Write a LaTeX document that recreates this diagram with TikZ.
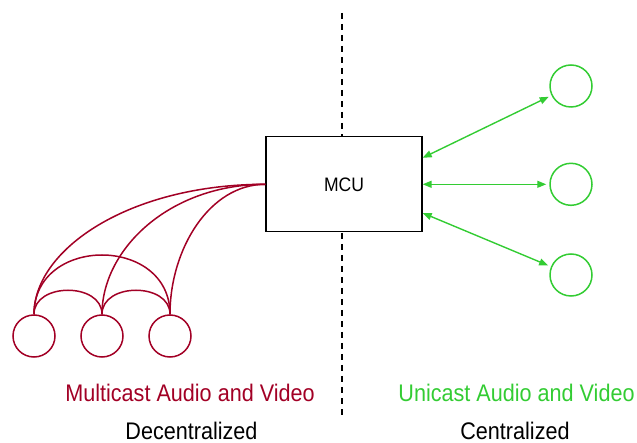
\documentclass[tikz,border=0pt]{standalone}
\usepackage{fontspec}
\setmainfont{Liberation Sans}
\newfontfamily\narrowsans[FakeStretch=0.9]{Liberation Sans}
\usetikzlibrary{arrows.meta}
\definecolor{mred}{HTML}{A20025}
\definecolor{ugreen}{HTML}{33CC33}
\begin{document}
\begin{tikzpicture}[x=1pt,y=-1pt,
  redpeer/.style={circle,draw=mred,line width=1.5pt,minimum size=42pt,inner sep=0pt},
  greenpeer/.style={circle,draw=ugreen,line width=1.5pt,minimum size=42pt,inner sep=0pt},
  redlink/.style={draw=mred,line width=1.5pt},
  greenlink/.style={draw=ugreen,line width=1.4pt,{Triangle[length=9pt,width=7pt]}-{Triangle[length=9pt,width=7pt]},shorten >=3pt},
  mcubox/.style={draw=black,fill=white,line width=1.3pt,minimum width=156pt,minimum height=95pt,inner sep=0pt,font=\narrowsans\fontsize{19.5}{22}\selectfont},
  lbl/.style={anchor=base,inner sep=0pt,font=\narrowsans\fontsize{24}{27}\selectfont},
  divider/.style={draw=black,line width=1.3pt,dash pattern=on 6pt off 5pt}
]
\useasboundingbox (0,0) rectangle (637,443);
\coordinate (dtop) at (342,13);
\coordinate (dbot) at (342,416);
\draw[divider] (dtop) -- (dbot);

\node[mcubox] (mcu) at (344,184.3) {MCU};

\node[redpeer] (r1) at (34,336) {};
\node[redpeer] (r2) at (102,336) {};
\node[redpeer] (r3) at (170,336) {};

\node[greenpeer] (g1) at (571,86) {};
\node[greenpeer] (g2) at (571,184.3) {};
\node[greenpeer] (g3) at (571,275) {};

% red mesh
\draw[redlink] (r1.north) .. controls +(0,-32) and +(0,-32) .. (r2.north);
\draw[redlink] (r2.north) .. controls +(0,-32) and +(0,-32) .. (r3.north);
\draw[redlink] (r1.north) .. controls +(0,-79) and +(0,-79) .. (r3.north);
\draw[redlink] (r1.north) .. controls +(0,-65) and +(-136,0) .. (mcu.west);
\draw[redlink] (r2.north) .. controls +(0,-65) and +(-96,0) .. (mcu.west);
\draw[redlink] (r3.north) .. controls +(0,-65) and +(-56,0) .. (mcu.west);

% green links
\draw[greenlink] ([yshift=26.5pt]mcu.east) -- (g1);
\draw[greenlink] (mcu.east) -- (g2);
\draw[greenlink] ([yshift=-28.7pt]mcu.east) -- (g3);

\node[lbl,text=mred] (mlabel) at (190,401.7) {Multicast Audio and Video};
\node[lbl] (dlabel) at (191.5,439) {Decentralized};
\node[lbl,text=ugreen] (ulabel) at (516.5,401.7) {Unicast Audio and Video};
\node[lbl] (clabel) at (515,439) {Centralized};
\end{tikzpicture}
\end{document}
